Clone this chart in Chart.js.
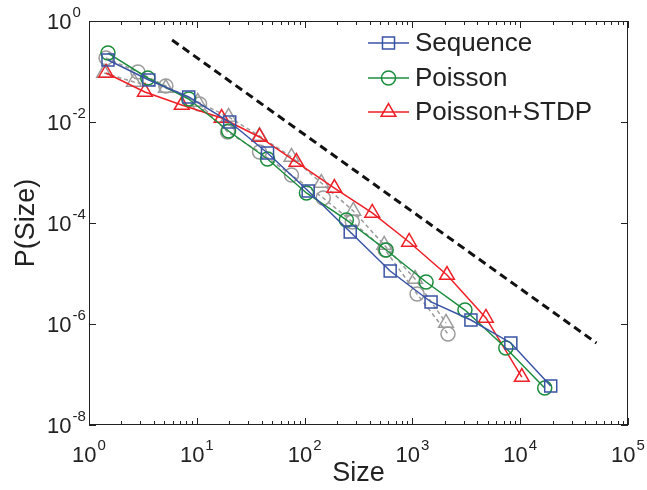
<!DOCTYPE html>
<html>
<head>
<meta charset="utf-8">
<script src="https://cdn.jsdelivr.net/npm/chart.js@4/dist/chart.umd.min.js"></script>
<style>
  html, body { margin: 0; padding: 0; background: #fff; }
  #wrap { width: 647px; height: 490px; }
</style>
</head>
<body>
<div id="wrap"><canvas id="chart" width="647" height="490"></canvas></div>
<script>
// Valores (escala log-log)
const seqSize = [1.5, 3.59, 8.41, 20.2, 45.3, 108, 265, 622, 1489, 3491, 8187, 19190];
const seqProb = [0.169, 0.0679, 0.0313, 0.0100, 0.00243, 4.30e-4, 6.63e-5, 1.12e-5, 2.73e-6, 1.20e-6, 4.21e-7, 5.92e-8];

const poiSize = [1.5, 3.51, 8.41, 19.7, 45.3, 104, 244, 571, 1339, 3073, 7357, 16890];
const poiProb = [0.232, 0.0744, 0.0285, 0.00663, 0.00185, 3.93e-4, 1.15e-4, 2.92e-5, 6.79e-6, 1.89e-6, 3.35e-7, 5.41e-8];

const stdpSize = [1.44, 3.30, 7.25, 17.0, 38.2, 84.0, 189, 424, 932, 2094, 4808, 10350];
const stdpProb = [0.0934, 0.0393, 0.0217, 0.0120, 0.00505, 0.00161, 4.93e-4, 1.58e-4, 4.21e-5, 9.33e-6, 1.32e-6, 8.91e-8];

// series grises (discontinuas), sin leyenda
const grayCircSize = [1.44, 2.84, 5.16, 10.6, 19.3, 38.2, 75.5, 149, 277, 559, 1105, 2138];
const grayCircProb = [0.185, 0.0977, 0.0516, 0.0227, 0.00634, 0.00255, 8.91e-4, 3.13e-4, 1.05e-4, 2.92e-5, 3.93e-6, 6.34e-7];

const grayTriSize = [1.38, 2.61, 5.16, 10.2, 19.7, 38.2, 75.5, 143, 283, 547, 1059, 2050];
const grayTriProb = [0.0934, 0.0620, 0.0471, 0.0249, 0.0126, 0.00528, 0.00203, 6.19e-4, 1.73e-4, 3.67e-5, 7.78e-6, 1.05e-6];

// recta de referencia (pendiente ~ -1.5)
const refSize = [5.9, 51000];
const refProb = [0.42, 4.2e-7];

// marcas de los ejes (exponentes de 10)
const xTickExps = [0, 1, 2, 3, 4, 5];
const yTickExps = [0, -2, -4, -6, -8];
const yMinorExps = [-1, -3, -5, -7];

const BLUE = '#3953a5';
const GREEN = '#1b8c3c';
const RED = '#ee1f26';
const GRAY = '#9b9b9b';
const INK = '#222222';
const FONT = '"Liberation Sans", Arial, Helvetica, sans-serif';

const toPoints = (xs, ys) => xs.map((x, i) => ({ x: x, y: ys[i] }));

// Dibuja "10^n" con el exponente elevado
function powWidth(ctx, exp) {
  ctx.font = '22px ' + FONT;
  const wb = ctx.measureText('10').width;
  ctx.font = '15px ' + FONT;
  const we = ctx.measureText(String(exp)).width;
  return { wb, we };
}

function drawPow(ctx, exp, left, baseline) {
  const { wb } = powWidth(ctx, exp);
  ctx.font = '22px ' + FONT;
  ctx.fillText('10', left, baseline);
  ctx.font = '15px ' + FONT;
  ctx.fillText(String(exp), left + wb + 1, baseline - 12);
}

const axesPlugin = {
  id: 'matlabAxes',
  afterDraw(chart) {
    const { ctx, chartArea: a, scales } = chart;
    const xs = scales.x, ys = scales.y;
    ctx.save();
    ctx.strokeStyle = INK;
    ctx.fillStyle = INK;
    ctx.lineWidth = 1;

    // marco
    ctx.strokeRect(a.left + 0.5, a.top + 0.5, a.right - a.left - 1, a.bottom - a.top - 1);

    ctx.beginPath();
    // marcas eje X (mayores y menores) abajo y arriba
    xTickExps.forEach((e, i) => {
      const px = Math.round(xs.getPixelForValue(Math.pow(10, e))) + 0.5;
      ctx.moveTo(px, a.bottom); ctx.lineTo(px, a.bottom - 7);
      ctx.moveTo(px, a.top); ctx.lineTo(px, a.top + 7);
      if (i < xTickExps.length - 1) {
        for (let k = 2; k <= 9; k++) {
          const mx = Math.round(xs.getPixelForValue(k * Math.pow(10, e))) + 0.5;
          ctx.moveTo(mx, a.bottom); ctx.lineTo(mx, a.bottom - 4);
          ctx.moveTo(mx, a.top); ctx.lineTo(mx, a.top + 4);
        }
      }
    });
    // marcas eje Y
    yTickExps.forEach(e => {
      const py = Math.round(ys.getPixelForValue(Math.pow(10, e))) + 0.5;
      ctx.moveTo(a.left, py); ctx.lineTo(a.left + 7, py);
      ctx.moveTo(a.right, py); ctx.lineTo(a.right - 7, py);
    });
    ctx.stroke();

    // etiquetas X
    ctx.textAlign = 'left';
    ctx.textBaseline = 'alphabetic';
    xTickExps.forEach(e => {
      const px = xs.getPixelForValue(Math.pow(10, e));
      const { wb, we } = powWidth(ctx, e);
      drawPow(ctx, e, px - (wb + 1 + we) / 2, a.bottom + 37);
    });
    // etiquetas Y
    yTickExps.forEach(e => {
      const py = ys.getPixelForValue(Math.pow(10, e));
      drawPow(ctx, e, a.left - 42, py + 8);
    });

    // títulos de ejes
    ctx.font = '27px ' + FONT;
    ctx.textAlign = 'center';
    ctx.textBaseline = 'middle';
    ctx.fillText('Size', (a.left + a.right) / 2, 474);
    ctx.save();
    ctx.translate(27, (a.top + a.bottom) / 2);
    ctx.rotate(-Math.PI / 2);
    ctx.fillText('P(Size)', 0, 0);
    ctx.restore();

    // leyenda (línea + marcador + texto)
    const rows = [43, 78, 112];
    chart.data.datasets.slice(0, 3).forEach((ds, i) => {
      const y = rows[i];
      ctx.strokeStyle = ds.borderColor;
      ctx.lineWidth = ds.borderWidth;
      ctx.setLineDash([]);
      ctx.beginPath();
      ctx.moveTo(368, y); ctx.lineTo(409, y);
      ctx.stroke();
      ctx.fillStyle = 'rgba(0,0,0,0)';
      Chart.helpers.drawPoint(ctx, {
        pointStyle: ds.pointStyle, radius: ds.pointRadius, rotation: 0, borderWidth: ds.pointBorderWidth
      }, 388.5, y);
      ctx.fillStyle = INK;
      ctx.font = '26px ' + FONT;
      ctx.textAlign = 'left';
      ctx.textBaseline = 'middle';
      ctx.fillText(ds.label, 415, y + 1);
    });
    ctx.restore();
  }
};

function series(label, xs, ys, color, style, radius, dash) {
  return {
    label: label,
    data: toPoints(xs, ys),
    showLine: true,
    borderColor: color,
    backgroundColor: 'rgba(0,0,0,0)',
    borderWidth: 1.5,
    borderDash: dash || [],
    pointStyle: style,
    pointRadius: radius,
    pointBorderWidth: 1.5,
    pointBorderColor: color,
    pointBackgroundColor: 'rgba(0,0,0,0)',
    tension: 0
  };
}

new Chart(document.getElementById('chart'), {
  type: 'scatter',
  data: {
    datasets: [
      series('Sequence', seqSize, seqProb, BLUE, 'rect', 8.5),
      series('Poisson', poiSize, poiProb, GREEN, 'circle', 7),
      series('Poisson+STDP', stdpSize, stdpProb, RED, 'triangle', 8.5),
      series('gray-circle', grayCircSize, grayCircProb, GRAY, 'circle', 7, [4, 3]),
      series('gray-triangle', grayTriSize, grayTriProb, GRAY, 'triangle', 8.5, [4, 3]),
      {
        label: 'ref',
        data: toPoints(refSize, refProb),
        showLine: true,
        borderColor: '#111111',
        borderWidth: 3,
        borderDash: [8, 5],
        pointRadius: 0
      }
    ]
  },
  options: {
    responsive: false,
    animation: false,
    devicePixelRatio: 1,
    layout: { padding: { left: 89, right: 19, top: 21, bottom: 65 } },
    plugins: { legend: { display: false }, tooltip: { enabled: false } },
    scales: {
      x: { type: 'logarithmic', min: 1, max: 1e5, display: false },
      y: { type: 'logarithmic', min: 1e-8, max: 1, display: false }
    }
  },
  plugins: [axesPlugin]
});
</script>
</body>
</html>
